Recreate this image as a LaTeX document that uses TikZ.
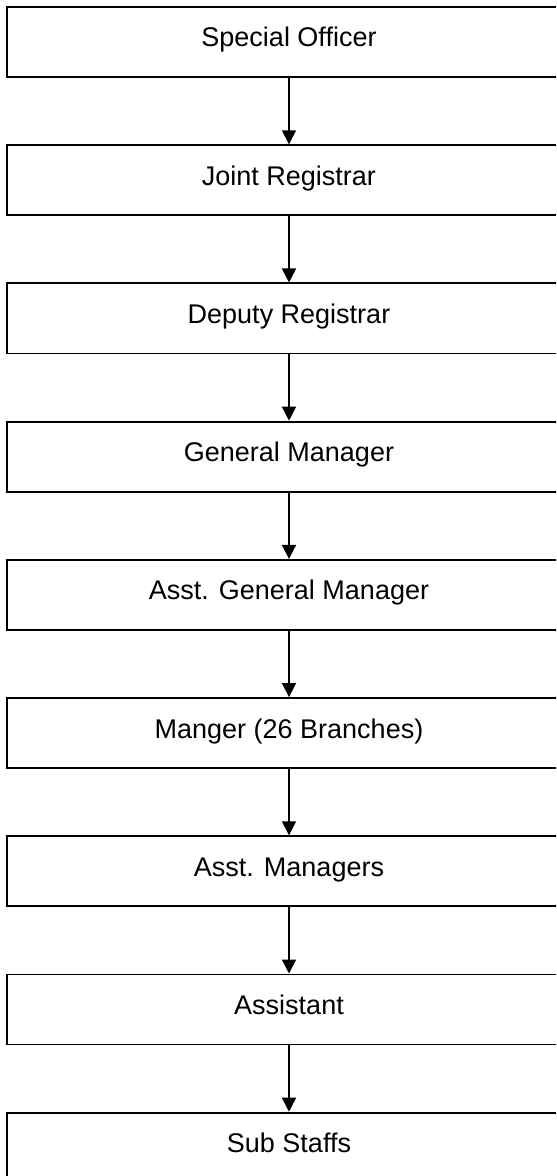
\documentclass[tikz,border=0pt]{standalone}
\usepackage{fontspec}
\setmainfont{Liberation Sans}
\usetikzlibrary{arrows.meta, positioning}
\tikzset{
  box/.style={draw, line width=0.9pt, minimum height=35pt, minimum width=282pt,
    text height=10pt, text depth=5pt, inner sep=0pt, font=\fontsize{13.5}{16}\selectfont},
  arr/.style={-{Triangle[length=7pt, width=7pt]}, line width=0.8pt},
}

\begin{document}
\begin{tikzpicture}[x=0.5pt, y=-0.5pt, node distance=33.2pt]
    \clip (0,0) rectangle (556,1176);
    \useasboundingbox (0,0) rectangle (556,1176);
    \node[box] (so) at (289,42) {Special Officer};
    \node[box, below=of so] (jr) {Joint Registrar};
    \node[box, below=of jr] (dr) {Deputy Registrar};
    \node[box, below=of dr] (gm) {General Manager};
    \node[box, below=of gm] (agm) {Asst. General Manager};
    \node[box, below=of agm] (mgr) {Manger (26 Branches)};
    \node[box, below=of mgr] (am) {Asst. Managers};
    \node[box, below=of am] (as) {Assistant};
    \node[box, below=of as] (ss) {Sub Staffs};
    \draw[arr] (so) -- (jr);
    \draw[arr] (jr) -- (dr);
    \draw[arr] (dr) -- (gm);
    \draw[arr] (gm) -- (agm);
    \draw[arr] (agm) -- (mgr);
    \draw[arr] (mgr) -- (am);
    \draw[arr] (am) -- (as);
    \draw[arr] (as) -- (ss);
\end{tikzpicture}
\end{document}
